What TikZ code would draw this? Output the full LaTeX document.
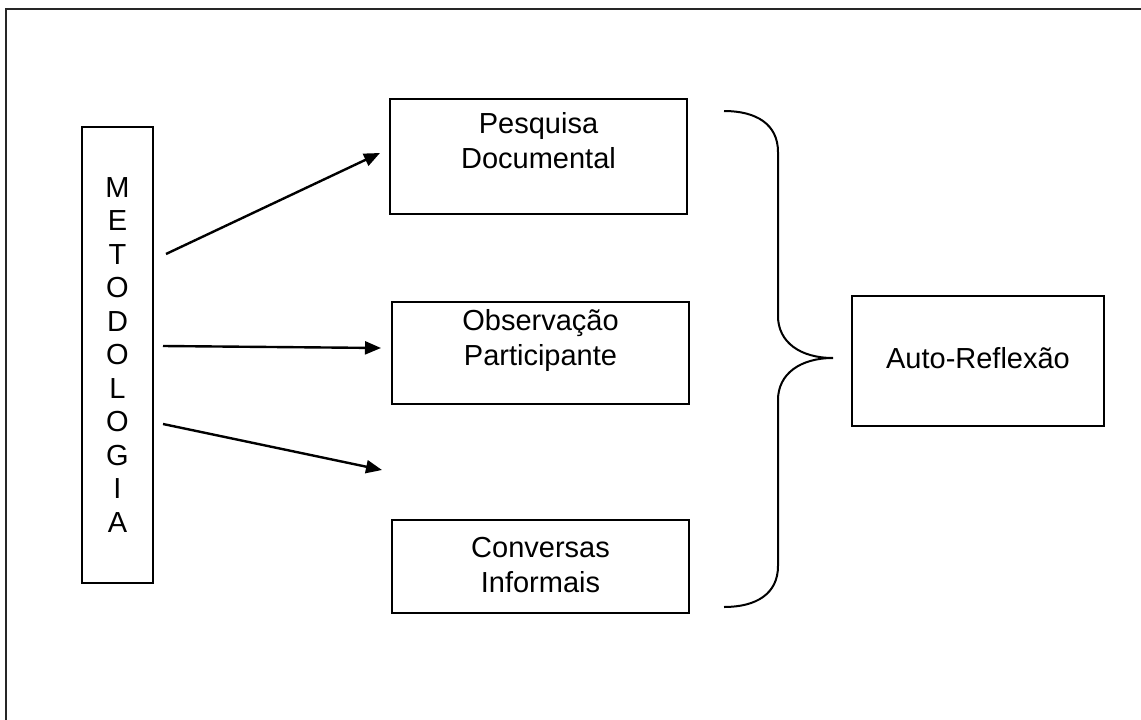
\documentclass[tikz,border=0pt]{standalone}
\usepackage{fontspec}
\setmainfont{Liberation Sans}
\usetikzlibrary{arrows.meta,calc}
\begin{document}
\begin{tikzpicture}[x=1pt,y=-1pt,
  box/.style={draw=black,line width=2pt,inner sep=0pt},
  lbl/.style={font=\fontsize{29}{35}\selectfont,align=center,inner sep=0pt},
  arr/.style={line width=2.4pt,-{Triangle[length=16pt,width=13pt]}},
  brace/.style={line width=2pt}]
\useasboundingbox (0,0) rectangle (1141,720);
% outer frame (open at right and bottom)
\draw[line width=2.2pt,black!85] (6,721) -- (6,9) -- (1142,9);
% nodes
\node[box,minimum width=71pt,minimum height=456pt,font=\fontsize{29}{33.5}\selectfont,align=center] (met) at (117.5,355)
  {M\\E\\T\\O\\D\\O\\L\\O\\G\\I\\A};
\node[box,minimum width=297pt,minimum height=115pt] (pd) at (538.5,156.5) {};
\node[box,minimum width=297pt,minimum height=102pt] (op) at (540.5,353) {};
\node[box,minimum width=297pt,minimum height=93pt] (ci) at (540.5,566.5) {};
\node[box,minimum width=252pt,minimum height=130pt] (ar) at (978,361) {};
\node[lbl,anchor=north] (pdt) at ([yshift=-14pt]pd.north) {Pesquisa\\Documental};
\node[lbl,anchor=north] (opt) at ([yshift=-8pt]op.north) {Observação\\Participante};
\node[lbl,anchor=north] (cit) at ([yshift=-18pt]ci.north) {Conversas\\Informais};
\node[lbl,anchor=base] (art) at (978,368) {Auto-Reflexão};
% arrows
\coordinate (a1s) at (166,254);
\coordinate (a1e) at (380,153);
\coordinate (a2s) at (163,346);
\coordinate (a2e) at (381,348);
\coordinate (a3s) at (163,424);
\coordinate (a3e) at (382,470);
\draw[arr] (a1s) -- (a1e);
\draw[arr] (a2s) -- (a2e);
\draw[arr] (a3s) -- (a3e);
% brace
\coordinate (bt) at (724,111);
\coordinate (btip) at (833,358);
\coordinate (bb) at (724,607);
\draw[brace] (bt) .. controls (756,111) and (778,124) .. (778,152)
  -- (778,316) .. controls (778,342) and (800,358) .. (btip)
  .. controls (800,358) and (778,374) .. (778,400)
  -- (778,566) .. controls (778,594) and (756,607) .. (bb);
\end{tikzpicture}
\end{document}
